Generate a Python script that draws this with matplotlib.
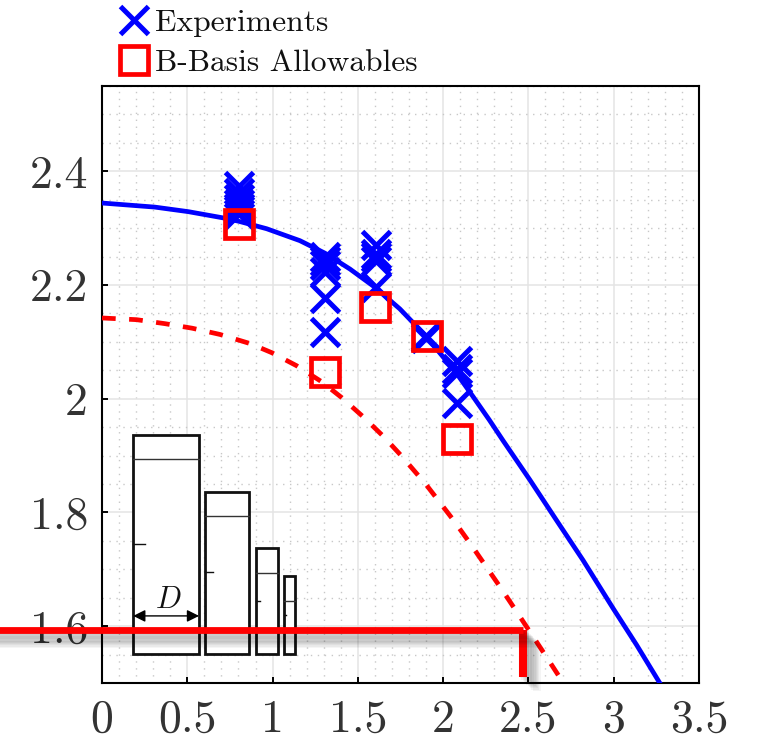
# Import libraries
import matplotlib
matplotlib.use('Agg')
import matplotlib.pyplot as plt
import matplotlib.patheffects as pe
from matplotlib.patches import Rectangle
from matplotlib.ticker import MultipleLocator

# fit curves
fit_x = [0.008, 0.31, 0.506, 0.711, 0.803, 0.965, 1.16, 1.307, 1.454, 1.60, 1.746, 1.90, 2.08,
         2.177, 2.27, 2.352, 2.509, 2.665, 2.82, 2.997, 3.134, 3.27]
fit_y = [2.344, 2.337, 2.329, 2.318, 2.312, 2.299, 2.278, 2.256, 2.228, 2.196, 2.158, 2.110, 2.044,
         2.003, 1.963, 1.926, 1.857, 1.786, 1.716, 1.631, 1.567, 1.500]

allow_x = [0, 0.203, 0.369, 0.529, 0.692, 0.868, 0.995, 1.141, 1.287, 1.405, 1.532, 1.649, 1.757,
           1.90, 2.059, 2.157, 2.249, 2.343, 2.434, 2.522, 2.612, 2.694, 2.72]
allow_y = [2.142, 2.139, 2.132, 2.124, 2.113, 2.097, 2.081, 2.058, 2.030, 2.002, 1.968, 1.934, 1.899,
           1.849, 1.787, 1.746, 1.706, 1.665, 1.624, 1.584, 1.543, 1.505, 1.492]

# measurements
exp_x = [0.803, 0.803, 0.803, 0.803, 0.803, 0.803,
         1.307, 1.307, 1.307, 1.307, 1.307, 1.307,
         1.606, 1.606, 1.606, 1.606, 1.606,
         1.897, 1.897,
         2.079, 2.079, 2.079, 2.079]
exp_y = [2.374, 2.362, 2.352, 2.343, 2.335, 2.325,
         2.250, 2.242, 2.235, 2.222, 2.178, 2.117,
         2.271, 2.254, 2.250, 2.242, 2.196,
         2.110, 2.107,
         2.066, 2.052, 2.045, 1.992]

basis_x = [0.803, 1.307, 1.60, 1.905, 2.08]
basis_y = [2.307, 2.047, 2.161, 2.110, 1.929]

# design point
design_x = [-0.70, 2.468]
design_y = [1.593, 1.593]
drop_x = [2.468, 2.468]
drop_y = [1.593, 1.5105]

# specimen sketch
spec_left = [0.183, 0.606, 0.901, 1.065]
spec_right = [0.569, 0.862, 1.033, 1.131]
spec_top = [1.936, 1.836, 1.737, 1.688]
spec_line = [1.894, 1.794, 1.693, 1.645]
spec_mark = [1.745, 1.695, 1.644, 1.620]
spec_bottom = 1.551

xticks = [0, 0.5, 1, 1.5, 2, 2.5, 3, 3.5]
xlabels = ['0', '0.5', '1', '1.5', '2', '2.5', '3', '3.5']
yticks = [1.6, 1.8, 2, 2.2, 2.4]
ylabels = ['1.6', '1.8', '2', '2.2', '2.4']

plt.rcParams['font.family'] = ['cmr10', 'DejaVu Sans']
plt.rcParams['mathtext.fontset'] = 'cm'
plt.rcParams['axes.formatter.use_mathtext'] = True

fig = plt.figure(figsize=(7.57, 7.41), dpi=100)
ax = fig.add_axes([102 / 757, 58 / 741, 597 / 757, 597 / 741])

ax.set_xlim(0, 3.5)
ax.set_ylim(1.5, 2.55)
ax.set_xticks(xticks)
ax.set_xticklabels(xlabels)
ax.set_yticks(yticks)
ax.set_yticklabels(ylabels)
ax.xaxis.set_minor_locator(MultipleLocator(0.1))
ax.yaxis.set_minor_locator(MultipleLocator(0.05))
ax.tick_params(which='major', direction='in', length=4.5, width=1.4, labelsize=33,
               labelcolor='#333333')
ax.tick_params(axis='x', pad=11.5)
ax.tick_params(axis='y', pad=10)
ax.tick_params(which='minor', length=0)
ax.grid(which='major', color='#e4e4e4', lw=1.1)
ax.grid(which='minor', color='#c8c8c8', lw=1, ls=(0, (1, 4)))
ax.set_axisbelow(True)
for s in ax.spines.values():
    s.set_linewidth(1.5)

ax.plot(fit_x, fit_y, color='#0000ff', lw=3.4, zorder=3)
ax.plot(allow_x, allow_y, color='#ff0000', lw=3.4, ls=(0, (2.9, 2.85)), zorder=3)
ax.plot(exp_x, exp_y, ls='none', marker='x', ms=20, mew=3.6, color='#0000ff',
        label='Experiments', zorder=4)
ax.plot(basis_x, basis_y, ls='none', marker='s', ms=20, mew=3.4, mfc='none', color='#ff0000',
        label='B-Basis Allowables', zorder=5)

for i in range(len(spec_left)):
    ax.add_patch(Rectangle((spec_left[i], spec_bottom), spec_right[i] - spec_left[i],
                           spec_top[i] - spec_bottom, fc='white', ec='#111111', lw=2, zorder=2))
    ax.plot([spec_left[i], spec_right[i]], [spec_line[i], spec_line[i]], color='#333333', lw=1, zorder=2)
    ax.plot([spec_left[i], spec_left[i] + (spec_right[i] - spec_left[i]) * 0.18],
            [spec_mark[i], spec_mark[i]], color='#111111', lw=1, zorder=2)

ax.annotate('', xy=(spec_left[0], 1.618), xytext=(spec_right[0], 1.618),
            arrowprops=dict(arrowstyle='<|-|>', color='black', lw=1, shrinkA=0, shrinkB=0, mutation_scale=18),
            zorder=3)
ax.text(0.39, 1.622, r'$D$', fontsize=22, ha='center', va='bottom', color='#111111', zorder=3)

shadow = [pe.SimpleLineShadow(offset=(0.9 * k, -0.9 * k), shadow_color='black', alpha=0.045) for k in range(1, 12)]
ax.plot(drop_x, drop_y, color='#ff0000', lw=5.8, solid_capstyle='butt',
        clip_on=False, zorder=6, path_effects=shadow + [pe.Normal()])
ax.plot(design_x, design_y, color='#ff0000', lw=4.9, solid_capstyle='butt',
        clip_on=False, zorder=7, path_effects=shadow + [pe.Normal()])

ax.legend(loc='lower left', bbox_to_anchor=(0.027, 1.015), frameon=False, fontsize=22.7,
          handlelength=1, handletextpad=0.175, labelspacing=0.38, borderaxespad=0, borderpad=0,
          labelcolor='#111111')

plt.savefig('out.png', dpi=100)
